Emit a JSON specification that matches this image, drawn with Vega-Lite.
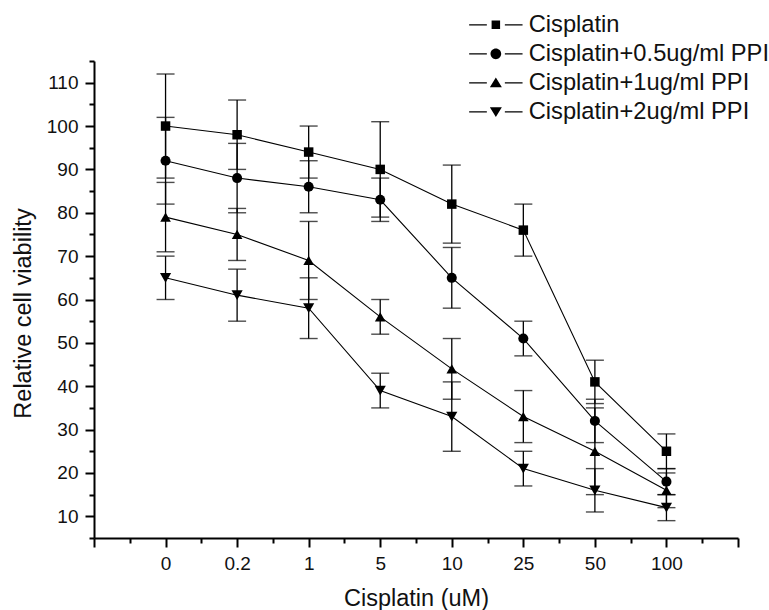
{
  "$schema": "https://vega.github.io/schema/vega-lite/v6.json",
  "width": 644,
  "height": 477,
  "autosize": {"type": "none"},
  "padding": {"left": 94, "top": 61, "right": 31, "bottom": 72},
  "background": "white",
  "config": {
    "view": {"stroke": null},
    "font": "Liberation Sans",
    "axis": {
      "domainColor": "black",
      "domainWidth": 2,
      "tickColor": "black",
      "tickWidth": 2,
      "labelColor": "#111",
      "labelFont": "Liberation Sans",
      "labelFontSize": 19,
      "titleFont": "Liberation Sans",
      "titleFontSize": 23.5,
      "titleFontWeight": "normal",
      "titleColor": "#111",
      "grid": false,
      "labelOverlap": false,
      "labelFlush": false
    }
  },
  "data": {
    "values": [
      {"series": "Cisplatin", "dose": "0", "viability": 100, "sd": 12},
      {"series": "Cisplatin", "dose": "0.2", "viability": 98, "sd": 8},
      {"series": "Cisplatin", "dose": "1", "viability": 94, "sd": 6},
      {"series": "Cisplatin", "dose": "5", "viability": 90, "sd": 11},
      {"series": "Cisplatin", "dose": "10", "viability": 82, "sd": 9},
      {"series": "Cisplatin", "dose": "25", "viability": 76, "sd": 6},
      {"series": "Cisplatin", "dose": "50", "viability": 41, "sd": 5},
      {"series": "Cisplatin", "dose": "100", "viability": 25, "sd": 4},
      {"series": "Cisplatin+0.5ug/ml PPI", "dose": "0", "viability": 92, "sd": 10},
      {"series": "Cisplatin+0.5ug/ml PPI", "dose": "0.2", "viability": 88, "sd": 8},
      {"series": "Cisplatin+0.5ug/ml PPI", "dose": "1", "viability": 86, "sd": 6},
      {"series": "Cisplatin+0.5ug/ml PPI", "dose": "5", "viability": 83, "sd": 5},
      {"series": "Cisplatin+0.5ug/ml PPI", "dose": "10", "viability": 65, "sd": 7},
      {"series": "Cisplatin+0.5ug/ml PPI", "dose": "25", "viability": 51, "sd": 4},
      {"series": "Cisplatin+0.5ug/ml PPI", "dose": "50", "viability": 32, "sd": 5},
      {"series": "Cisplatin+0.5ug/ml PPI", "dose": "100", "viability": 18, "sd": 3},
      {"series": "Cisplatin+1ug/ml PPI", "dose": "0", "viability": 79, "sd": 8},
      {"series": "Cisplatin+1ug/ml PPI", "dose": "0.2", "viability": 75, "sd": 6},
      {"series": "Cisplatin+1ug/ml PPI", "dose": "1", "viability": 69, "sd": 9},
      {"series": "Cisplatin+1ug/ml PPI", "dose": "5", "viability": 56, "sd": 4},
      {"series": "Cisplatin+1ug/ml PPI", "dose": "10", "viability": 44, "sd": 7},
      {"series": "Cisplatin+1ug/ml PPI", "dose": "25", "viability": 33, "sd": 6},
      {"series": "Cisplatin+1ug/ml PPI", "dose": "50", "viability": 25, "sd": 10},
      {"series": "Cisplatin+1ug/ml PPI", "dose": "100", "viability": 16, "sd": 4},
      {"series": "Cisplatin+2ug/ml PPI", "dose": "0", "viability": 65, "sd": 5},
      {"series": "Cisplatin+2ug/ml PPI", "dose": "0.2", "viability": 61, "sd": 6},
      {"series": "Cisplatin+2ug/ml PPI", "dose": "1", "viability": 58, "sd": 7},
      {"series": "Cisplatin+2ug/ml PPI", "dose": "5", "viability": 39, "sd": 4},
      {"series": "Cisplatin+2ug/ml PPI", "dose": "10", "viability": 33, "sd": 8},
      {"series": "Cisplatin+2ug/ml PPI", "dose": "25", "viability": 21, "sd": 4},
      {"series": "Cisplatin+2ug/ml PPI", "dose": "50", "viability": 16, "sd": 5},
      {"series": "Cisplatin+2ug/ml PPI", "dose": "100", "viability": 12, "sd": 3}
    ]
  },
  "transform": [
    {"calculate": "indexof(['0','0.2','1','5','10','25','50','100'], datum.dose)", "as": "pos"}
  ],
  "resolve": {
    "axis": {"x": "independent", "y": "independent"},
    "scale": {"shape": "independent"},
    "legend": {"shape": "independent"}
  },
  "layer": [
    {
      "mark": {
        "type": "errorbar",
        "color": "black",
        "ticks": {"size": 18, "thickness": 1.4, "color": "black"},
        "rule": {"strokeWidth": 1.3, "color": "black"}
      },
      "encoding": {
        "x": {"field": "pos", "type": "quantitative", "scale": {"domain": [-1, 8], "nice": false, "zero": false}, "axis": null},
        "y": {"field": "viability", "type": "quantitative", "scale": {"domain": [5, 115], "nice": false, "zero": false}, "axis": null},
        "yError": {"field": "sd"},
        "detail": {"field": "series", "type": "nominal"}
      }
    },
    {
      "mark": {"type": "line", "color": "black", "strokeWidth": 1.1},
      "encoding": {
        "x": {
          "field": "pos",
          "type": "quantitative",
          "axis": {
            "orient": "bottom",
            "title": "Cisplatin (uM)",
            "values": [-1, 0, 1, 2, 3, 4, 5, 6, 7, 8],
            "labelExpr": "(datum.value >= 0 && datum.value <= 7) ? ['0','0.2','1','5','10','25','50','100'][datum.value] : ''",
            "tickSize": 9,
            "labelPadding": 7,
            "titleY": 67,
            "titleBaseline": "alphabetic"
          }
        },
        "y": {
          "field": "viability",
          "type": "quantitative",
          "axis": {
            "orient": "left",
            "title": "Relative cell viability",
            "values": [10, 20, 30, 40, 50, 60, 70, 80, 90, 100, 110],
            "tickSize": 9,
            "labelPadding": 7,
            "titleX": -64,
            "titleY": 252,
            "titleAngle": -90,
            "titleAlign": "center",
            "titleBaseline": "alphabetic"
          }
        },
        "detail": {"field": "series", "type": "nominal"}
      }
    },
    {
      "mark": {"type": "point", "filled": true, "color": "black", "opacity": 1},
      "encoding": {
        "x": {
          "field": "pos",
          "type": "quantitative",
          "axis": {
            "orient": "bottom",
            "title": null,
            "values": [-0.5, 0.5, 1.5, 2.5, 3.5, 4.5, 5.5, 6.5, 7.5],
            "labels": false,
            "domain": false,
            "tickSize": 5
          }
        },
        "y": {
          "field": "viability",
          "type": "quantitative",
          "axis": {
            "orient": "left",
            "title": null,
            "values": [5, 15, 25, 35, 45, 55, 65, 75, 85, 95, 105, 115],
            "labels": false,
            "domain": false,
            "tickSize": 5
          }
        },
        "size": {
          "field": "series",
          "type": "nominal",
          "scale": {"domain": ["Cisplatin", "Cisplatin+0.5ug/ml PPI", "Cisplatin+1ug/ml PPI", "Cisplatin+2ug/ml PPI"], "range": [90, 125, 150, 150]},
          "legend": null
        },
        "shape": {
          "field": "series",
          "type": "nominal",
          "scale": {"domain": ["Cisplatin", "Cisplatin+0.5ug/ml PPI", "Cisplatin+1ug/ml PPI", "Cisplatin+2ug/ml PPI"], "range": ["square", "circle", "triangle-up", "triangle-down"]},
          "legend": null
        }
      }
    },
    {
      "mark": {"type": "point", "filled": true, "color": "black"},
      "encoding": {
        "x": {"field": "pos", "type": "quantitative", "axis": null},
        "y": {"field": "viability", "type": "quantitative", "axis": null},
        "opacity": {"value": 0},
        "shape": {
          "field": "series",
          "type": "nominal",
          "scale": {
            "domain": ["Cisplatin", "Cisplatin+0.5ug/ml PPI", "Cisplatin+1ug/ml PPI", "Cisplatin+2ug/ml PPI"],
            "range": [
              "M-5.34,-0.14H-1.8V0.14H-5.34ZM1.8,-0.14H5.34V0.14H1.8ZM-0.85,-0.85H0.85V0.85H-0.85Z",
              "M-5.34,-0.14H-1.8V0.14H-5.34ZM1.8,-0.14H5.34V0.14H1.8ZM-1.07,0A1.07,1.07,0,1,1,1.07,0A1.07,1.07,0,1,1,-1.07,0Z",
              "M-5.34,-0.14H-1.8V0.14H-5.34ZM1.8,-0.14H5.34V0.14H1.8ZM0,-1.05L1.2,0.9H-1.2Z",
              "M-5.34,-0.14H-1.8V0.14H-5.34ZM1.8,-0.14H5.34V0.14H1.8ZM0,1.05L1.2,-0.9H-1.2Z"
            ]
          },
          "legend": {
            "title": null,
            "orient": "none",
            "legendX": 390,
            "legendY": -48,
            "padding": 0,
            "symbolSize": 100,
            "symbolOpacity": 1,
            "symbolFillColor": "black",
            "symbolStrokeWidth": 0,
            "labelOffset": 21,
            "labelFont": "Liberation Sans",
            "labelFontSize": 23.7,
            "labelColor": "#111",
            "labelLimit": 400,
            "rowPadding": 4
          }
        }
      }
    }
  ]
}
